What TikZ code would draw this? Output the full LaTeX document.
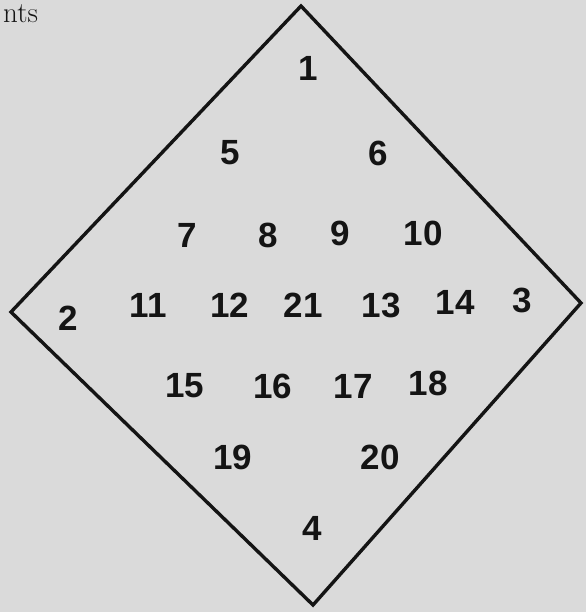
\documentclass[tikz,border=0pt]{standalone}
\usepackage{fontspec}
\newfontfamily\handfont{Liberation Sans}
\definecolor{paper}{RGB}{218,218,218}
\definecolor{ink}{RGB}{20,20,20}
\begin{document}
\begin{tikzpicture}[x=1pt,y=-1pt,
    num/.style={font=\handfont\bfseries\fontsize{35}{38}\selectfont, text=ink, inner sep=0pt}]
    % 画布与背景
    \useasboundingbox[fill=paper] (0,0) rectangle (586,612);
    
    % 左上角残留文字
    \node[anchor=north west, inner sep=0pt, text=ink,
          font=\fontsize{29}{32}\selectfont] (cut) at (3,4) {nts};
    
    % 菱形的四个顶点
    \coordinate (top) at (301,6);
    \coordinate (rgt) at (581,303);
    \coordinate (bot) at (313,605);
    \coordinate (lft) at (11,312);
    \draw[ink, line width=3.4pt, line join=miter] 
        (top) -- (rgt) -- (bot) -- (lft) -- cycle;
    
    % 各个数字（编号/横坐标/纵坐标）
    \foreach \lab/\x/\y in {1/308/68, 5/230/153, 6/378/153,
                            7/187/235, 8/268/235, 9/340/233, 10/423/233,
                            2/68/318, 11/148/305, 12/230/305, 21/303/305,
                            13/381/305, 14/455/302, 3/522/300,
                            15/185/386, 16/273/386, 17/353/386, 18/428/383,
                            19/233/457, 20/380/457, 4/312/528} {
        \node[num] (n\lab) at (\x,\y) {\lab};
    }
    
\end{tikzpicture}
\end{document}
